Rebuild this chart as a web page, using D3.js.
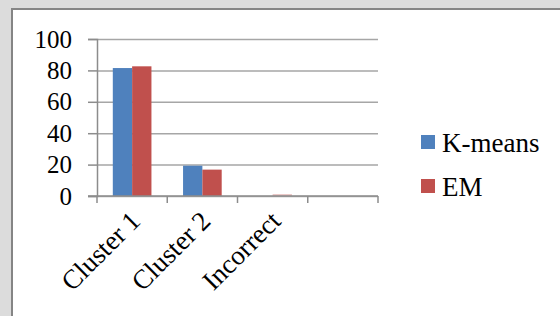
<!DOCTYPE html>
<html>
<head>
<meta charset="utf-8">
<style>
  body { margin: 0; background: #dcdcdc; }
  svg { display: block; }
  .axis text { font-family: "Liberation Serif", "Times New Roman", serif; fill: #000; }
</style>
</head>
<body>
<div id="container"></div>
<script src="https://cdn.jsdelivr.net/npm/d3@7/dist/d3.min.js"></script>
<script>
  // The Data
  var categories = ["Cluster 1", "Cluster 2", "Incorrect", ""];
  var seriesNames = ["K-means", "EM"];
  var kmeans = [81.5, 19.3, 0, 0];
  var em = [82.6, 16.8, 1.2, 0];
  var yTicks = [0, 20, 40, 60, 80, 100];
  var colors = ["#4f81bd", "#c0504d"];

  var w = 560, h = 316;
  var plotLeft = 97, plotRight = 378, plotTop = 39, plotBottom = 196;

  var svg = d3.select("#container").append("svg")
    .attr("width", w)
    .attr("height", h);

  // chart frame (the picture is cropped, so only top and left edges show)
  svg.append("rect")
    .attr("x", 12).attr("y", 9)
    .attr("width", w).attr("height", h)
    .attr("fill", "#fff")
    .attr("stroke", "#858585")
    .attr("stroke-width", 2);

  var xScale = d3.scaleBand().domain(categories).range([plotLeft, plotRight]);
  var yScale = d3.scaleLinear().domain([0, 100]).range([plotBottom, plotTop]);
  var step = xScale.step();

  // inner scale for the two series inside one category
  var xSub = d3.scaleBand().domain(seriesNames)
    .range([step * 0.225, step * 0.775]);

  // grid lines
  svg.append("g")
    .attr("class", "grid")
    .attr("transform", "translate(" + plotLeft + ",0)")
    .call(d3.axisLeft(yScale).tickValues(yTicks).tickSize(-(plotRight - plotLeft)).tickFormat(""))
    .call(function(g) {
      g.select(".domain").remove();
      g.selectAll("line").attr("stroke", "#a6a6a6").attr("stroke-width", 1.5);
    });

  // bars
  var table = categories.map(function(c, i) {
    return { cat: c, values: [kmeans[i], em[i]] };
  });

  svg.append("g").selectAll("g")
    .data(table)
    .enter().append("g")
    .attr("transform", function(d) { return "translate(" + xScale(d.cat) + ",0)"; })
    .selectAll("rect")
    .data(function(d) { return d.values.map(function(v, j) { return { name: seriesNames[j], v: v, j: j }; }); })
    .enter().append("rect")
    .attr("x", function(d) { return xSub(d.name); })
    .attr("width", xSub.bandwidth())
    .attr("y", function(d) { return yScale(d.v); })
    .attr("height", function(d) { return plotBottom - yScale(d.v); })
    .attr("fill", function(d) { return colors[d.j]; })
    .attr("opacity", function(d) { return d.v < 3 ? 0.35 : 1; });

  // y axis
  var yAxis = svg.append("g")
    .attr("class", "axis")
    .attr("transform", "translate(" + plotLeft + ",0)")
    .call(d3.axisLeft(yScale).tickValues(yTicks).tickSize(9).tickPadding(16));
  yAxis.selectAll("text").style("font-size", "25px");
  yAxis.selectAll("line").attr("stroke", "#8c8c8c").attr("stroke-width", 1.5);
  yAxis.select(".domain").attr("stroke", "#8c8c8c").attr("stroke-width", 1.5);

  // x axis: ticks on band boundaries
  var xAxisG = svg.append("g").attr("class", "axis");
  xAxisG.append("line")
    .attr("x1", plotLeft - 9).attr("x2", plotRight)
    .attr("y1", plotBottom).attr("y2", plotBottom)
    .attr("stroke", "#8c8c8c").attr("stroke-width", 1.5);
  var bounds = categories.map(function(c) { return xScale(c); }).concat([plotRight]);
  xAxisG.selectAll(".tick").data(bounds).enter().append("line")
    .attr("x1", function(d) { return d; }).attr("x2", function(d) { return d; })
    .attr("y1", plotBottom).attr("y2", plotBottom + 7)
    .attr("stroke", "#8c8c8c").attr("stroke-width", 1.5);

  xAxisG.selectAll("text.cat").data(categories).enter().append("text")
    .attr("class", "cat")
    .attr("transform", function(d) {
      return "translate(" + (xScale(d) + step / 2 + 3) + "," + (plotBottom + 20) + ") rotate(-45)";
    })
    .attr("text-anchor", "end")
    .attr("dy", "0.35em")
    .style("font-size", "27px")
    .text(function(d) { return d; });

  // legend
  var legend = svg.append("g").attr("class", "axis")
    .selectAll("g").data(seriesNames).enter().append("g")
    .attr("transform", function(d, i) { return "translate(421," + (135 + i * 44) + ")"; });
  legend.append("rect")
    .attr("width", 14).attr("height", 14)
    .attr("fill", function(d, i) { return colors[i]; });
  legend.append("text")
    .attr("x", 21).attr("y", 8).attr("dy", "0.35em")
    .style("font-size", "27px")
    .text(function(d) { return d; });
</script>
</body>
</html>
